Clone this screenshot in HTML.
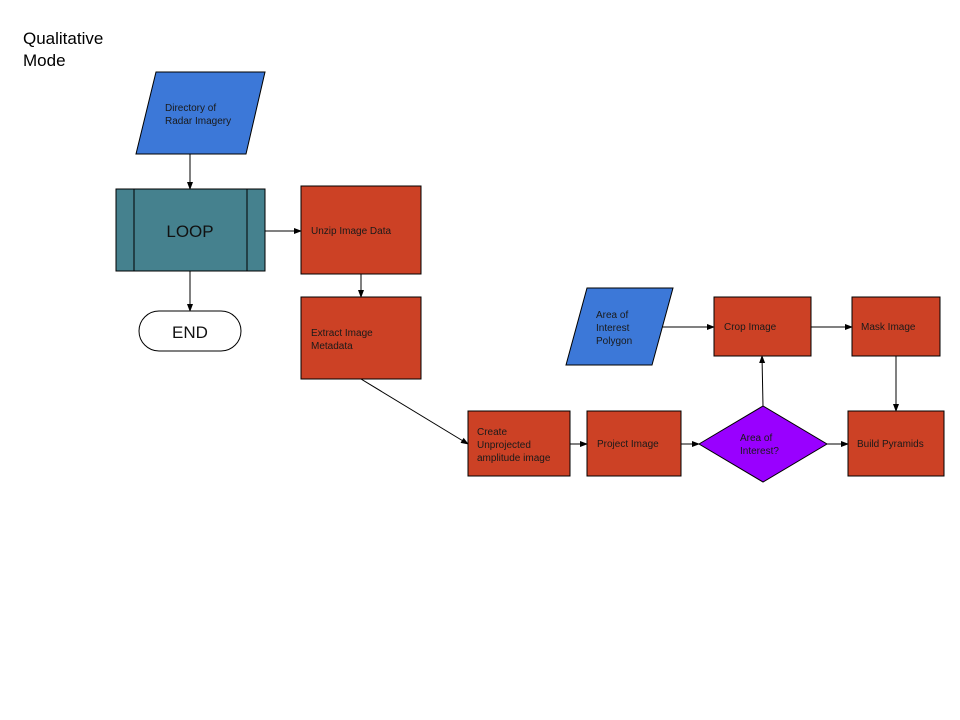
<!DOCTYPE html>
<html><head><meta charset="utf-8"><style>
html,body{margin:0;padding:0;background:#fff;}
svg{display:block;font-family:"Liberation Sans",Arial,sans-serif;}
</style></head><body>
<svg width="960" height="720" viewBox="0 0 960 720" xmlns="http://www.w3.org/2000/svg">
<defs>
<marker id="a" markerWidth="8" markerHeight="8" refX="7" refY="4" orient="auto" markerUnits="userSpaceOnUse">
<path d="M0,1 L8,4 L0,7 Z" fill="#000"/>
</marker>
</defs>
<rect width="960" height="720" fill="#fff"/>
<text x="23" y="44" font-size="17" fill="#000">Qualitative</text>
<text x="23" y="66" font-size="17" fill="#000">Mode</text>

<!-- connectors -->
<g stroke="#000" stroke-width="1" fill="none" marker-end="url(#a)">
<line x1="190" y1="154" x2="190" y2="189"/>
<line x1="265" y1="231" x2="301" y2="231"/>
<line x1="361" y1="274" x2="361" y2="297"/>
<line x1="190" y1="271" x2="190" y2="311"/>
<line x1="361" y1="379" x2="468" y2="444"/>
<line x1="570" y1="444" x2="587" y2="444"/>
<line x1="681" y1="444" x2="699" y2="444"/>
<line x1="827" y1="444" x2="848" y2="444"/>
<line x1="763" y1="406" x2="762" y2="356"/>
<line x1="662" y1="327" x2="714" y2="327"/>
<line x1="811" y1="327" x2="852" y2="327"/>
<line x1="896" y1="356" x2="896" y2="411"/>
</g>

<g stroke="#000" stroke-width="1">
<polygon points="156,72 265,72 246,154 136,154" fill="#3c78d8"/>
<rect x="116" y="189" width="149" height="82" fill="#45818e"/>
<line x1="134" y1="189" x2="134" y2="271"/>
<line x1="247" y1="189" x2="247" y2="271"/>
<rect x="139" y="311" width="102" height="40" rx="20" fill="#fff"/>
<rect x="301" y="186" width="120" height="88" fill="#cc4125"/>
<rect x="301" y="297" width="120" height="82" fill="#cc4125"/>
<rect x="468" y="411" width="102" height="65" fill="#cc4125"/>
<rect x="587" y="411" width="94" height="65" fill="#cc4125"/>
<polygon points="699,444 763,406 827,444 763,482" fill="#9900ff"/>
<rect x="848" y="411" width="96" height="65" fill="#cc4125"/>
<polygon points="587,288 673,288 652,365 566,365" fill="#3c78d8"/>
<rect x="714" y="297" width="97" height="59" fill="#cc4125"/>
<rect x="852" y="297" width="88" height="59" fill="#cc4125"/>
</g>

<g font-size="10" fill="#1a1a1a">
<text x="165" y="111">Directory of</text>
<text x="165" y="124">Radar Imagery</text>
<text x="311" y="234">Unzip Image Data</text>
<text x="311" y="336">Extract Image</text>
<text x="311" y="349">Metadata</text>
<text x="477" y="435">Create</text>
<text x="477" y="448">Unprojected</text>
<text x="477" y="461">amplitude image</text>
<text x="597" y="447">Project Image</text>
<text x="740" y="441">Area of</text>
<text x="740" y="454">Interest?</text>
<text x="857" y="447">Build Pyramids</text>
<text x="596" y="318">Area of</text>
<text x="596" y="331">Interest</text>
<text x="596" y="344">Polygon</text>
<text x="724" y="330">Crop Image</text>
<text x="861" y="330">Mask Image</text>
</g>
<text x="190" y="237" font-size="17" text-anchor="middle" fill="#111">LOOP</text>
<text x="190" y="338" font-size="17" text-anchor="middle" fill="#111">END</text>
</svg>
</body></html>
